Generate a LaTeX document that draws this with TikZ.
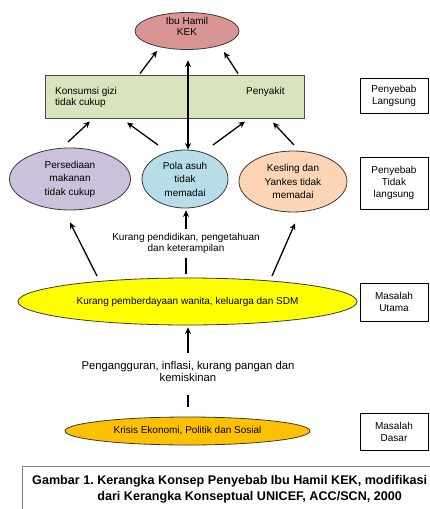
\documentclass[tikz,border=0pt]{standalone}
\usepackage{fontspec}
\setmainfont{Liberation Sans}
\usetikzlibrary{shapes.geometric,arrows.meta,calc}
\definecolor{ibuc}{HTML}{D99594}
\definecolor{boxc}{HTML}{D7E4BD}
\definecolor{persc}{HTML}{CCC1DA}
\definecolor{polac}{HTML}{B7DEE8}
\definecolor{kesc}{HTML}{FBD5B5}
\definecolor{yelc}{HTML}{FFFF00}
\definecolor{krisc}{HTML}{FFC000}
\definecolor{ellborder}{HTML}{3A3A3A}
\definecolor{capborder}{HTML}{808080}
\begin{document}
\begin{tikzpicture}[x=1pt,y=-1pt,
  ell/.style={ellipse, draw=ellborder, line width=0.8pt, inner sep=0pt, align=center,
    font=\fontsize{10}{13.5}\selectfont},
  sidebox/.style={rectangle, draw=black, line width=0.9pt, inner sep=0pt,
    minimum width=68pt, align=center, font=\fontsize{10}{12}\selectfont},
  conn/.style={line width=1.3pt, -{Stealth[length=6.5pt,width=6pt]}},
  dconn/.style={line width=1.3pt, {Stealth[length=6.5pt,width=6pt]}-{Stealth[length=6.5pt,width=6pt]}},
  plainline/.style={line width=1.3pt},
  lbl/.style={align=center, inner sep=0pt, font=\fontsize{10}{11.5}\selectfont},
  lblbig/.style={align=center, inner sep=0pt, font=\fontsize{11.3}{11.5}\selectfont}]
\useasboundingbox (0,0) rectangle (430,509);

% top ellipse
\node[ell, fill=ibuc, minimum width=104pt, minimum height=37pt] (ibu) at (187,31) {};
\node[lbl] (ibutext) at (187,26.5) {Ibu Hamil\\KEK};

% green box
\node[rectangle, draw=black!70, line width=1pt, fill=boxc, minimum width=259pt,
  minimum height=43pt, inner sep=0pt] (box) at (174.5,96.5) {};
\node[lbl, align=left, anchor=west] (konsumsi) at (55,97.5) {Konsumsi gizi\\tidak cukup};
\node[lbl, anchor=west] (penyakit) at (246,92) {Penyakit};

% middle ellipses
\node[ell, fill=persc, minimum width=121pt, minimum height=62pt] (pers) at (70,179)
  {Persediaan\\makanan\\tidak cukup};
\node[ell, fill=polac, minimum width=86pt, minimum height=58pt] (pola) at (185,179)
  {Pola asuh\\tidak\\memadai};
\node[ell, fill=kesc, minimum width=108pt, minimum height=61pt] (kes) at (293,181.5)
  {Kesling dan\\Yankes tidak\\memadai};

% text kurang pendidikan
\node[lbl] (kpd) at (186,243.5) {Kurang pendidikan, pengetahuan\\dan keterampilan};

% yellow ellipse
\node[ell, fill=yelc, minimum width=339pt, minimum height=47pt] (yel) at (187.5,301.5)
  {Kurang pemberdayaan wanita, keluarga dan SDM};

% text pengangguran
\node[lblbig] (peng) at (188,371.5) {Pengangguran, inflasi, kurang pangan dan\\kemiskinan};

% bottom ellipse
\node[ell, fill=krisc, minimum width=245pt, minimum height=28pt] (kris) at (187.5,431)
  {Krisis Ekonomi, Politik dan Sosial};

% side boxes
\node[sidebox, minimum height=35pt] (sb1) at (394,95.5) {Penyebab\\Langsung};
\node[sidebox, minimum height=52pt] (sb2) at (394,183) {Penyebab\\Tidak\\langsung};
\node[sidebox, minimum height=38pt] (sb3) at (394,302) {Masalah\\Utama};
\node[sidebox, minimum height=37pt] (sb4) at (394,431.5) {Masalah\\Dasar};

% caption
\node[rectangle, draw=capborder, line width=1.3pt, anchor=north west, minimum width=440pt,
  minimum height=60pt, inner sep=0pt] (capbox) at (22,466) {};
\node[anchor=north west, inner sep=0pt, align=left,
  font=\fontsize{12.6}{16}\selectfont\bfseries] (captext) at (32,473)
  {\begin{tabular}{@{}l@{}l@{}}Gambar 1.\ \ & Kerangka Konsep Penyebab Ibu Hamil KEK, modifikasi\\
   & dari Kerangka Konseptual UNICEF, ACC/SCN, 2000\end{tabular}};

% connectors: box -> ibu
\draw[conn] ($(box.north)+(-34.5,-1)$) -- ($(ibu.center)+(-30,20)$);
\draw[conn] ($(box.north)+(63.5,-1)$) -- ($(ibu.center)+(37,21)$);
\draw[dconn] ($(pola.north)+(3,0)$) -- ($(ibu.south)+(1,10.5)$);

% ellipses -> box
\draw[conn] ($(pers.center)+(-2,-37)$) -- ($(box.south)+(-84.5,3)$);
\draw[conn] ($(pola.center)+(-27,-34)$) -- ($(box.south)+(-47.5,4)$);
\draw[conn] ($(pola.center)+(28,-34)$) -- ($(box.south)+(70.5,3)$);
\draw[conn] ($(kes.center)+(1,-36.5)$) -- ($(box.south)+(98.5,4)$);

% kpd -> pola
\draw[conn] ($(kpd.north)+(0,-4)$) -- ($(pola.south)+(1,2)$);
\draw[plainline] ($(kpd.south)+(0,4)$) -- ($(yel.north)+(-1.5,-4)$);

% yellow -> outer ellipses
\draw[conn] ($(yel.center)+(-90.5,-25.5)$) -- ($(pers.south)+(0,12)$);
\draw[conn] ($(yel.center)+(84.5,-25.5)$) -- ($(kes.south)+(2,11)$);

% peng -> yellow
\draw[conn] ($(peng.center)+(0,-18.5)$) -- ($(yel.south)+(0.5,2)$);
\draw[plainline] ($(peng.center)+(0,23.5)$) -- ($(kris.north)+(0.5,-10)$);
\end{tikzpicture}
\end{document}
